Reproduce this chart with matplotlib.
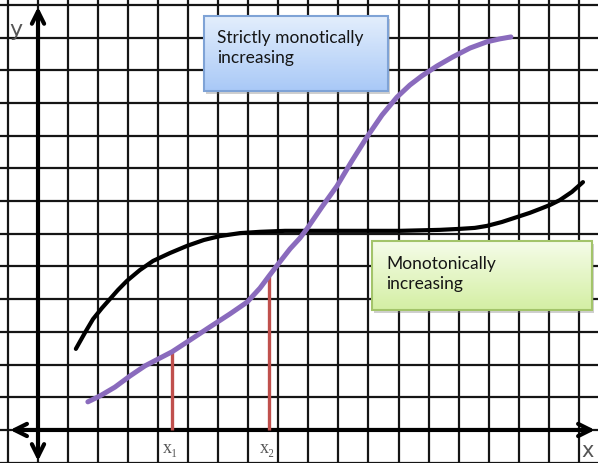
import numpy as np
import matplotlib.pyplot as plt
from matplotlib.colors import to_rgb
from matplotlib.patches import FancyArrowPatch, Rectangle

# curves, in grid units (y-axis at x=0, x-axis at y=0)
strict_x = [1.66, 2.06, 2.56, 3.06, 3.56, 4.06, 4.46, 5.06, 5.72, 6.39,
            6.96, 7.39, 7.69, 8.05, 8.39, 8.72, 8.95, 9.45, 9.95, 10.45,
            10.95, 11.45, 11.95, 12.38, 12.78, 13.28, 13.81, 14.38, 14.94,
            15.37, 15.74]
strict_y = [0.86, 1.04, 1.31, 1.65, 1.96, 2.20, 2.39, 2.75, 3.15, 3.55,
            3.91, 4.34, 4.71, 5.14, 5.54, 5.87, 6.15, 6.82, 7.46, 8.23,
            8.96, 9.63, 10.18, 10.55, 10.83, 11.13, 11.41, 11.68, 11.87,
            11.96, 12.02]

mono_x = [1.26, 1.56, 1.83, 2.13, 2.40, 2.66, 2.96, 3.39, 3.83, 4.39,
          4.96, 5.52, 6.06, 6.72, 7.39, 8.22, 8.99, 10.38, 12.05, 13.38,
          14.04, 14.54, 14.94, 15.44, 15.94, 16.37, 16.71, 17.04, 17.37,
          17.77, 18.14]
mono_y = [2.48, 2.97, 3.39, 3.73, 4.01, 4.28, 4.56, 4.89, 5.17, 5.41,
          5.63, 5.81, 5.93, 6.02, 6.06, 6.09, 6.09, 6.09, 6.09, 6.12,
          6.15, 6.18, 6.24, 6.36, 6.51, 6.64, 6.76, 6.88, 7.03, 7.28,
          7.58]

# the two marked points on the strict curve
mark_x = [4.46, 7.69]
mark_y = [2.39, 4.71]
mark_labels = ['x\u2081', 'x\u2082']

box_strict = 'Strictly monotically\nincreasing'
box_mono = 'Monotonically\nincreasing'

fig = plt.figure(figsize=(5.98, 4.64), dpi=100)
ax = fig.add_axes([0, 0, 1, 1])
XLIM = (-1.265, 18.64)
YLIM = (-1.01, 13.18)

# grid paper
ax.set_xticks(range(-1, 19))
ax.set_yticks(range(-1, 14))
ax.grid(True, color='#151515', lw=1.6, zorder=0)
ax.tick_params(length=0, labelbottom=False, labelleft=False)
for s in ax.spines.values():
    s.set_visible(False)


def gradient_box(x0, y0, x1, y1, top, bottom, edge):
    # soft shadow
    ax.add_patch(Rectangle((x0 + 0.07, y0 - 0.1), x1 - x0, y1 - y0,
                           color='#777777', alpha=0.35, lw=0, zorder=4))
    grad = np.linspace(0, 1, 64)[:, None, None]
    img = np.array(to_rgb(top)) * (1 - grad) + np.array(to_rgb(bottom)) * grad
    ax.imshow(img, extent=(x0, x1, y0, y1), origin='upper',
              aspect='auto', zorder=5)
    ax.add_patch(Rectangle((x0, y0), x1 - x0, y1 - y0, fill=False,
                           ec=edge, lw=1.5, zorder=6))


gradient_box(5.52, 10.37, 11.65, 12.66, '#e3eefc', '#a9c9f7', '#7fa3d6')
gradient_box(11.11, 3.67, 18.44, 5.78, '#f5fce8', '#d4efa4', '#a3c46a')
ax.set_xlim(*XLIM)
ax.set_ylim(*YLIM)

ax.text(5.95, 12.25, box_strict, fontsize=12.5, family='Lato', color='#151515',
        va='top', ha='left', linespacing=1.3, zorder=7)
ax.text(11.58, 5.35, box_mono, fontsize=12.5, family='Lato', color='#151515',
        va='top', ha='left', linespacing=1.3, zorder=7)

# axes with arrows at both ends
for pa, pb in [((-0.93, 0), (18.54, 0)), ((0, -0.95), (0, 12.94))]:
    ax.add_patch(FancyArrowPatch(pa, pb, arrowstyle='<->', mutation_scale=22,
                                 lw=3, color='black', zorder=3,
                                 shrinkA=0, shrinkB=0))

# curves
ax.plot(mono_x, mono_y, color='black', lw=3, solid_capstyle='round',
        solid_joinstyle='round', zorder=8)
ax.plot(strict_x, strict_y, color='#8a6bbd', lw=3.6, solid_capstyle='round',
        solid_joinstyle='round', zorder=9)

# markers down to the x axis
ax.vlines(mark_x, 0, mark_y, color='#c0504d', lw=2.4, zorder=7)
for mx, lab in zip(mark_x, mark_labels):
    ax.text(mx - 0.05, -0.55, lab, fontsize=13, color='#555555',
            family=['Liberation Serif', 'DejaVu Serif'], ha='center', va='center')

ax.text(-0.72, 12.25, 'y', fontsize=16, color='#555555', ha='center', va='center')
ax.text(18.3, -0.62, 'x', fontsize=15, color='#555555', ha='center', va='center')

fig.savefig('out.png', dpi=100)
